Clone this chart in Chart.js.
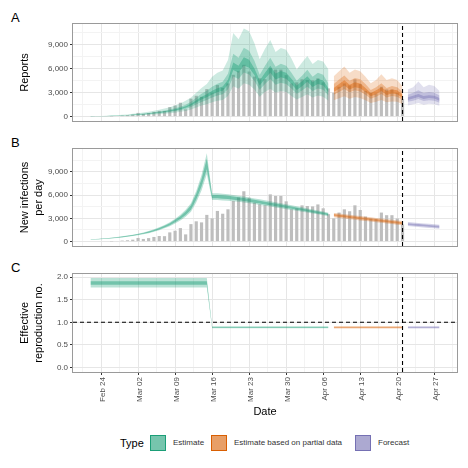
<!DOCTYPE html>
<html>
<head>
<meta charset="utf-8">
<script src="https://cdn.jsdelivr.net/npm/chart.js@4.4.1/dist/chart.umd.min.js"></script>
<style>
  body { margin: 0; background: #fff; font-family: "Liberation Sans", Arial, sans-serif; }
  #wrap { position: relative; width: 468px; height: 468px; overflow: hidden; }
  canvas { position: absolute; left: 0; }
  .tag { position: absolute; left: 11px; font-size: 13px; line-height: 14px; color: #000; }
  .lg { position: absolute; font-size: 8px; line-height: 16px; top: 435px; color: #333; white-space: nowrap; }
  .box { position: absolute; top: 435px; width: 16px; height: 16px; box-sizing: border-box; border: 1.5px solid; }
</style>
</head>
<body>
<div id="wrap">
  <div class="tag" style="top:11px">A</div>
  <div class="tag" style="top:136px">B</div>
  <div class="tag" style="top:261px">C</div>
  <canvas id="panelA" width="468" height="125" style="top:0"></canvas>
  <canvas id="panelB" width="468" height="125" style="top:125px"></canvas>
  <canvas id="panelC" width="468" height="170" style="top:250px"></canvas>

  <div class="lg" style="left:120px;font-size:11px;color:#000">Type</div>
  <div class="box" style="left:150px;background:rgb(118,197,173);border-color:#1b9e77"></div>
  <div class="lg" style="left:173px">Estimate</div>
  <div class="box" style="left:211px;background:rgb(232,159,103);border-color:#d95f02"></div>
  <div class="lg" style="left:234px">Estimate based on partial data</div>
  <div class="box" style="left:355px;background:rgb(172,169,209);border-color:#7570b3"></div>
  <div class="lg" style="left:378px">Forecast</div>
</div>

<script>
// days are counted from Feb 24 2020 (day 0)
var reportDays = { from: 2, to: 57 };
var reported = [20, 60, 130, 170, 250, 470, 340, 450, 600, 720, 700, 1190, 1400, 1745, 930, 2255,
  2620, 2480, 3450, 3000, 3960, 3600, 4170, 5250, 5700, 6500, 5660, 5025, 4810, 4700, 6100, 5900,
  5900, 5200, 4170, 4300, 4680, 4600, 4550, 4800, 4300, 3540, 3000, 3750, 4170, 3920, 4685, 4085,
  3240, 2985, 2900, 3750, 3410, 3410, 2985, 2200];

var estDays = { from: -2, to: 43 };
var partDays = { from: 44, to: 57 };
var fcDays = { from: 58, to: 64 };
var dataEnd = 57;

// panel A: reports
var repEstHi90 = [50, 65, 90, 115, 150, 180, 230, 280, 345, 430, 510, 610, 725, 860, 1020, 1190, 1390, 1650, 1980, 2400,
  3000, 3600, 4100, 5000, 5500, 5800, 7100, 10500, 9700, 11070, 10700, 9200, 7200, 8500, 9600, 8100, 8600, 8400, 7300, 5900,
  6800, 7600, 6600, 7100, 6900, 5900];
var repEstLo90 = [18, 24, 33, 42, 54, 66, 84, 100, 125, 155, 185, 220, 265, 310, 370, 430, 500, 600, 720, 900,
  1140, 1380, 1560, 1800, 2000, 2100, 2600, 3800, 3500, 4200, 4000, 3400, 2500, 3100, 3500, 3000, 3200, 3100, 2600, 2150,
  2450, 2800, 2400, 2650, 2500, 2000];
var repEstHi50 = [38, 50, 69, 88, 113, 138, 175, 213, 263, 325, 388, 463, 550, 650, 775, 900, 1050, 1250, 1500, 1875,
  2380, 2880, 3250, 3750, 4130, 4380, 5380, 7880, 7380, 8630, 8250, 7000, 5250, 6380, 7380, 6250, 6630, 6380, 5500, 4500,
  5130, 5880, 5000, 5500, 5250, 4130];
var repEstLo50 = [24, 32, 44, 56, 72, 88, 112, 136, 168, 208, 248, 296, 352, 416, 496, 576, 672, 800, 960, 1200,
  1520, 1840, 2080, 2400, 2640, 2800, 3440, 5040, 4720, 5520, 5280, 4480, 3360, 4080, 4720, 4000, 4240, 4080, 3520, 2880,
  3280, 3760, 3200, 3520, 3360, 2640];
var repEstHi20 = [32, 43, 59, 76, 97, 119, 151, 184, 227, 281, 335, 400, 475, 560, 670, 780, 910, 1080, 1300, 1620,
  2050, 2480, 2810, 3240, 3560, 3780, 4640, 6800, 6370, 7450, 7130, 6050, 4540, 5510, 6370, 5400, 5720, 5510, 4750, 3890,
  4430, 5080, 4320, 4750, 4540, 3560];
var repEstLo20 = [28, 37, 51, 65, 84, 102, 130, 158, 195, 242, 288, 344, 409, 484, 577, 670, 781, 930, 1120, 1400,
  1770, 2140, 2420, 2790, 3070, 3260, 4000, 5860, 5490, 6420, 6140, 5210, 3910, 4740, 5490, 4650, 4930, 4740, 4090, 3350,
  3810, 4370, 3720, 4090, 3910, 3070];

var repPartHi90 = [5050, 5700, 6300, 5500, 5900, 5700, 5000, 4200, 4600, 5300, 4600, 4800, 4600, 3800];
var repPartLo90 = [2050, 2300, 2550, 2250, 2450, 2350, 2050, 1700, 1850, 2100, 1800, 1900, 1850, 1550];
var repPartHi50 = [4100, 4650, 5150, 4500, 4850, 4700, 4100, 3350, 3700, 4200, 3600, 3850, 3700, 3100];
var repPartLo50 = [2750, 3100, 3450, 3050, 3300, 3150, 2750, 2250, 2500, 2850, 2400, 2600, 2500, 2100];
var repPartHi20 = [3600, 4100, 4550, 4000, 4300, 4150, 3600, 2950, 3300, 3700, 3200, 3400, 3300, 2750];
var repPartLo20 = [3100, 3500, 3900, 3400, 3700, 3550, 3100, 2550, 2800, 3200, 2700, 2900, 2800, 2350];

var repFcHi90 = [3400, 3700, 4400, 3700, 4000, 3850, 3200];
var repFcLo90 = [1400, 1550, 1700, 1500, 1600, 1550, 1350];
var repFcHi50 = [2750, 3000, 3300, 2950, 3100, 3000, 2650];
var repFcLo50 = [1850, 2000, 2200, 1950, 2050, 2000, 1750];
var repFcHi20 = [2420, 2620, 2850, 2580, 2680, 2620, 2320];
var repFcLo20 = [2080, 2280, 2450, 2220, 2320, 2280, 1980];

// panel B: new infections per day
var infEstHi90 = [290, 335, 390, 445, 510, 590, 680, 780, 890, 1025, 1180, 1360, 1580, 1840, 2150, 2510, 2960, 3470, 4100, 4960,
  6550, 8600, 11400, 6250, 6250, 6180, 6120, 6030, 5930, 5820, 5700, 5580, 5460, 5330, 5200, 5070, 4940, 4810, 4680, 4550,
  4420, 4290, 4160, 4020, 3880, 3740];
var infEstLo90 = [230, 265, 310, 355, 410, 470, 540, 620, 710, 815, 940, 1080, 1260, 1460, 1710, 1990, 2340, 2730, 3200, 3840,
  5050, 6600, 8700, 5370, 5370, 5320, 5280, 5210, 5130, 5040, 4940, 4840, 4740, 4630, 4520, 4410, 4300, 4190, 4080, 3970,
  3860, 3750, 3640, 3520, 3400, 3280];
var infEstHi50 = [275, 318, 370, 423, 485, 560, 645, 740, 845, 972, 1120, 1290, 1500, 1745, 2040, 2380, 2805, 3285, 3875, 4680,
  6175, 8100, 10700, 6030, 6030, 5970, 5910, 5830, 5730, 5630, 5510, 5400, 5280, 5160, 5030, 4910, 4780, 4660, 4530, 4410,
  4280, 4160, 4030, 3900, 3760, 3630];
var infEstLo50 = [245, 283, 330, 378, 435, 500, 575, 660, 755, 868, 1000, 1150, 1340, 1555, 1820, 2120, 2495, 2915, 3425, 4120,
  5425, 7100, 9350, 5590, 5590, 5540, 5490, 5410, 5330, 5230, 5130, 5020, 4920, 4800, 4690, 4570, 4460, 4340, 4230, 4110,
  4000, 3880, 3770, 3640, 3520, 3390];

var infPartHi90 = [3700, 3620, 3540, 3460, 3380, 3300, 3220, 3140, 3060, 2980, 2900, 2820, 2740, 2660];
var infPartLo90 = [3140, 3060, 2980, 2900, 2820, 2740, 2660, 2580, 2500, 2420, 2340, 2260, 2180, 2100];
var infPartHi50 = [3550, 3470, 3390, 3310, 3230, 3150, 3070, 2990, 2910, 2830, 2750, 2670, 2590, 2510];
var infPartLo50 = [3290, 3210, 3130, 3050, 2970, 2890, 2810, 2730, 2650, 2570, 2490, 2410, 2330, 2250];

var infFcHi90 = [2520, 2460, 2400, 2350, 2290, 2230, 2180];
var infFcLo90 = [2000, 1940, 1880, 1830, 1770, 1710, 1660];
var infFcHi50 = [2380, 2320, 2260, 2210, 2150, 2090, 2040];
var infFcLo50 = [2140, 2080, 2020, 1970, 1910, 1850, 1800];

// panel C: effective reproduction number (breakpoints)
var rEstDays = [-2, 20, 21, 43];
var rEstHi90 = [1.98, 1.98, 0.91, 0.91];
var rEstLo90 = [1.77, 1.77, 0.87, 0.87];
var rEstHi50 = [1.91, 1.91, 0.90, 0.90];
var rEstLo50 = [1.83, 1.83, 0.88, 0.88];
var rPartDays = [44, 57];
var rPartHi = [0.91, 0.91];
var rPartLo = [0.87, 0.87];
var rFcDays = [58, 64];
var rFcHi = [0.91, 0.91];
var rFcLo = [0.87, 0.87];

var months = ['Jan', 'Feb', 'Mar', 'Apr', 'May'];
var green = '27,158,119', orange = '217,95,2', purple = '117,112,179';
var xMin = -5.3, xMax = 67.3;

function span(r) {
    var out = [];
    for (var d = r.from; d <= r.to; d++) out.push(d);
    return out;
}

function pts(xs, ys) {
    return xs.map(function (x, i) { return { x: x, y: ys[i] }; });
}

function dayLabel(d) {
    var dt = new Date(2020, 1, 24 + d);
    return months[dt.getMonth()] + ' ' + String(dt.getDate()).padStart(2, '0');
}

function band(list, xs, lo, hi, rgb, alpha) {
    list.push({ type: 'line', data: pts(xs, lo), borderWidth: 0, borderColor: 'transparent', pointRadius: 0, fill: false, order: 1 });
    list.push({ type: 'line', data: pts(xs, hi), borderWidth: 0, borderColor: 'transparent', pointRadius: 0,
        fill: '-1', backgroundColor: 'rgba(' + rgb + ',' + alpha + ')', order: 1 });
}

function dashed(list, a, b) {
    list.push({ type: 'line', data: [a, b], borderColor: '#000', borderWidth: 1.1, borderDash: [4, 3],
        pointRadius: 0, fill: false, order: 0 });
}

var frame = {
    id: 'frame',
    afterDraw: function (chart) {
        var a = chart.chartArea, c = chart.ctx;
        c.save();
        c.strokeStyle = '#9a9a9a';
        c.lineWidth = 1;
        c.strokeRect(Math.round(a.left) - 0.5, Math.round(a.top) - 0.5, Math.round(a.right - a.left) + 1, Math.round(a.bottom - a.top) + 1);
        c.restore();
    }
};

function xScale(showLabels) {
    var major = function (v) { return v % 7 === 0; };
    return {
        type: 'linear', min: xMin, max: xMax, offset: false,
        afterBuildTicks: function (s) {
            var t = [];
            for (var v = -3.5; v <= 67; v += 3.5) t.push({ value: v });
            s.ticks = t;
        },
        afterFit: function (s) {
            s.height = showLabels ? 48 : 4;
            s.paddingLeft = 0; s.paddingRight = 0;
        },
        border: { display: false },
        grid: {
            offset: false,
            color: function (c) { return major(c.tick.value) ? '#e6e6e6' : '#f3f3f3'; },
            drawTicks: showLabels, tickLength: 3,
            tickColor: function (c) { return major(c.tick.value) ? '#333' : 'rgba(0,0,0,0)'; }
        },
        ticks: {
            display: showLabels, autoSkip: false, minRotation: 90, maxRotation: 90,
            font: { size: 8 }, color: '#4d4d4d', padding: 2, labelOffset: 2,
            callback: function (v) { return major(v) ? dayLabel(v) : ''; }
        },
        title: { display: showLabels, text: 'Date', font: { size: 11 }, color: '#000', padding: { top: 0, bottom: 1 } }
    };
}

function yScale(min, max, step, fmt, title) {
    var major = function (v) { return Math.abs(v / step - Math.round(v / step)) < 1e-6; };
    return {
        type: 'linear', min: min, max: max,
        afterBuildTicks: function (s) {
            var t = [];
            for (var v = 0; v <= max; v += step / 2) t.push({ value: v });
            s.ticks = t;
        },
        afterFit: function (s) {
            s.width = 73;
            s.paddingTop = 0; s.paddingBottom = 0;
        },
        border: { display: false },
        grid: {
            color: function (c) { return major(c.tick.value) ? '#e6e6e6' : '#f3f3f3'; },
            tickLength: 3,
            tickColor: function (c) { return major(c.tick.value) ? '#333' : 'rgba(0,0,0,0)'; }
        },
        ticks: { font: { size: 8 }, color: '#4d4d4d', padding: 2,
            callback: function (v) { return major(v) ? fmt(v) : ''; } },
        title: { display: true, text: title, font: { size: 11, lineHeight: 1.25 }, color: '#000', padding: { top: 18, bottom: 0 } }
    };
}

function makeChart(id, datasets, y, showX) {
    return new Chart(document.getElementById(id), {
        type: 'line',
        data: { datasets: datasets },
        options: {
            responsive: false, animation: false, devicePixelRatio: 1,
            layout: { padding: { left: 0, right: 11, top: 24, bottom: 0 } },
            plugins: { legend: { display: false }, tooltip: { enabled: false } },
            scales: { x: xScale(showX), y: y }
        },
        plugins: [frame]
    });
}

Chart.defaults.font.family = '"Liberation Sans", Arial, sans-serif';

var thousands = function (v) { return v.toLocaleString('en-US'); };
var bars = {
    type: 'bar', data: pts(span(reportDays), reported), backgroundColor: '#bebebe',
    barPercentage: 0.6, categoryPercentage: 1, order: 10
};

// panel A
var dsA = [Object.assign({}, bars)];
var e = span(estDays), p = span(partDays), f = span(fcDays);
band(dsA, e, repEstLo90, repEstHi90, green, 0.22);
band(dsA, e, repEstLo50, repEstHi50, green, 0.3);
band(dsA, e, repEstLo20, repEstHi20, green, 0.42);
band(dsA, p, repPartLo90, repPartHi90, orange, 0.22);
band(dsA, p, repPartLo50, repPartHi50, orange, 0.3);
band(dsA, p, repPartLo20, repPartHi20, orange, 0.42);
band(dsA, f, repFcLo90, repFcHi90, purple, 0.22);
band(dsA, f, repFcLo50, repFcHi50, purple, 0.3);
band(dsA, f, repFcLo20, repFcHi20, purple, 0.42);
dashed(dsA, { x: dataEnd, y: -550 }, { x: dataEnd, y: 11620 });
makeChart('panelA', dsA, yScale(-550, 11620, 3000, thousands, 'Reports'), false);

// panel B
var dsB = [Object.assign({}, bars)];
band(dsB, e, infEstLo90, infEstHi90, green, 0.3);
band(dsB, e, infEstLo50, infEstHi50, green, 0.45);
band(dsB, p, infPartLo90, infPartHi90, orange, 0.3);
band(dsB, p, infPartLo50, infPartHi50, orange, 0.45);
band(dsB, f, infFcLo90, infFcHi90, purple, 0.3);
band(dsB, f, infFcLo50, infFcHi50, purple, 0.45);
dashed(dsB, { x: dataEnd, y: -570 }, { x: dataEnd, y: 11960 });
makeChart('panelB', dsB, yScale(-570, 11960, 3000, thousands, ['New infections', 'per day']), false);

// panel C
var dsC = [];
band(dsC, rEstDays, rEstLo90, rEstHi90, green, 0.3);
band(dsC, rEstDays, rEstLo50, rEstHi50, green, 0.45);
band(dsC, rPartDays, rPartLo, rPartHi, orange, 0.55);
band(dsC, rFcDays, rFcLo, rFcHi, purple, 0.55);
dashed(dsC, { x: dataEnd, y: -0.1 }, { x: dataEnd, y: 2.07 });
dashed(dsC, { x: xMin, y: 1 }, { x: xMax, y: 1 });
makeChart('panelC', dsC, yScale(-0.1, 2.07, 0.5, function (v) { return v.toFixed(1); }, ['Effective', 'reproduction no.']), true);
</script>
</body>
</html>
